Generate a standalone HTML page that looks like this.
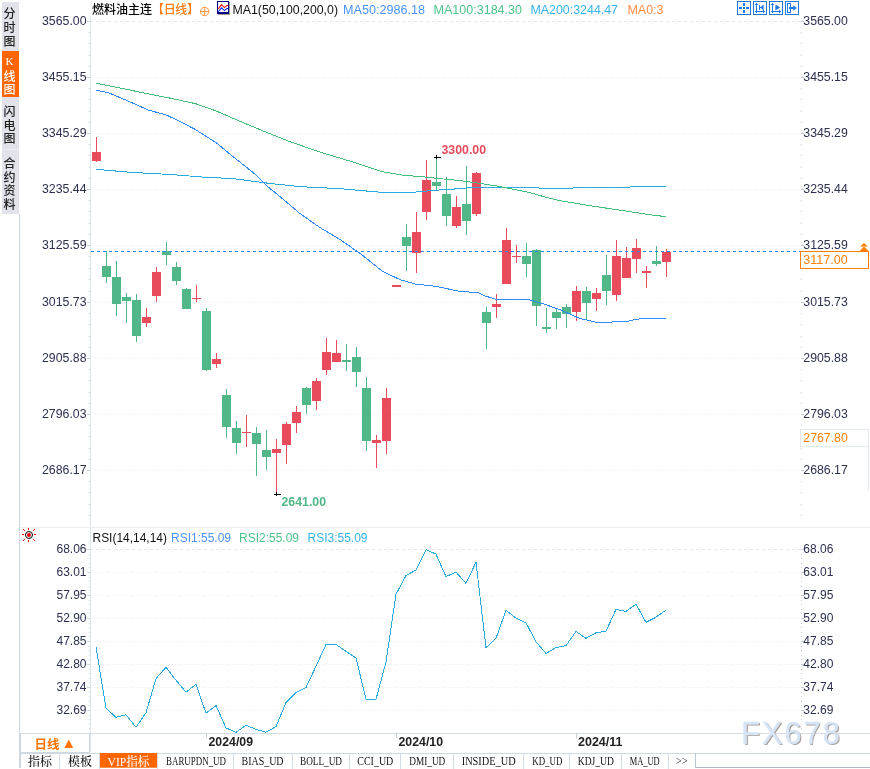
<!DOCTYPE html>
<html lang="zh"><head><meta charset="utf-8"><title>燃料油主连 日线</title>
<style>html,body{margin:0;padding:0;background:#fff}body{width:870px;height:769px;overflow:hidden}svg{display:block}text{font-family:"Liberation Sans", "Noto Sans CJK SC", sans-serif;font-size:12px}.ax{fill:#2b3050}.b{font-weight:bold}.tab{font-family:"Liberation Serif", "Noto Serif CJK SC", serif;font-size:12px;font-weight:500}.kser{font-family:"Liberation Serif",serif;font-size:11px}</style>
</head><body>
<svg width="870" height="769" viewBox="0 0 870 769">
<rect x="0" y="0" width="870" height="769" fill="#fff"/>
<g shape-rendering="crispEdges">
<rect x="90" y="16" width="1" height="736" fill="#dde6ee"/>
<rect x="19" y="527" width="851" height="1" fill="#e9eef3"/>
<rect x="19" y="733" width="851" height="1" fill="#d3dce6"/>
<rect x="19" y="214" width="1" height="554" fill="#cfd8e2"/>
<line x1="91" x2="801" y1="21.5" y2="21.5" stroke="#e1e9f1" stroke-width="1" stroke-dasharray="3 3" stroke-dashoffset="1"/>
<line x1="94" x2="801" y1="77.5" y2="77.5" stroke="#e6ebf0" stroke-width="1" stroke-dasharray="1 2"/>
<line x1="94" x2="801" y1="133.5" y2="133.5" stroke="#e6ebf0" stroke-width="1" stroke-dasharray="1 2"/>
<line x1="94" x2="801" y1="189.5" y2="189.5" stroke="#e6ebf0" stroke-width="1" stroke-dasharray="1 2"/>
<line x1="94" x2="801" y1="245.5" y2="245.5" stroke="#e6ebf0" stroke-width="1" stroke-dasharray="1 2"/>
<line x1="94" x2="801" y1="302.5" y2="302.5" stroke="#e6ebf0" stroke-width="1" stroke-dasharray="1 2"/>
<line x1="94" x2="801" y1="358.5" y2="358.5" stroke="#e6ebf0" stroke-width="1" stroke-dasharray="1 2"/>
<line x1="94" x2="801" y1="414.5" y2="414.5" stroke="#e6ebf0" stroke-width="1" stroke-dasharray="1 2"/>
<line x1="94" x2="801" y1="470.5" y2="470.5" stroke="#e6ebf0" stroke-width="1" stroke-dasharray="1 2"/>
<line x1="91" x2="801" y1="549.5" y2="549.5" stroke="#e1e9f1" stroke-width="1" stroke-dasharray="3 3" stroke-dashoffset="1"/>
<line x1="94" x2="801" y1="572.5" y2="572.5" stroke="#e6ebf0" stroke-width="1" stroke-dasharray="1 2"/>
<line x1="94" x2="801" y1="595.5" y2="595.5" stroke="#e6ebf0" stroke-width="1" stroke-dasharray="1 2"/>
<line x1="94" x2="801" y1="618.5" y2="618.5" stroke="#e6ebf0" stroke-width="1" stroke-dasharray="1 2"/>
<line x1="94" x2="801" y1="641.5" y2="641.5" stroke="#e6ebf0" stroke-width="1" stroke-dasharray="1 2"/>
<line x1="94" x2="801" y1="664.5" y2="664.5" stroke="#e6ebf0" stroke-width="1" stroke-dasharray="1 2"/>
<line x1="94" x2="801" y1="687.5" y2="687.5" stroke="#e6ebf0" stroke-width="1" stroke-dasharray="1 2"/>
<line x1="94" x2="801" y1="710.5" y2="710.5" stroke="#e6ebf0" stroke-width="1" stroke-dasharray="1 2"/>
<rect x="87" y="21" width="3" height="1" fill="#c3ccd6"/>
<rect x="801" y="21" width="3" height="1" fill="#c3c9d6"/>
<rect x="89" y="32" width="1" height="1" fill="#c3ccd6"/>
<rect x="801" y="32" width="1" height="1" fill="#c3c9d6"/>
<rect x="89" y="43" width="1" height="1" fill="#c3ccd6"/>
<rect x="801" y="43" width="1" height="1" fill="#c3c9d6"/>
<rect x="89" y="55" width="1" height="1" fill="#c3ccd6"/>
<rect x="801" y="55" width="1" height="1" fill="#c3c9d6"/>
<rect x="89" y="66" width="1" height="1" fill="#c3ccd6"/>
<rect x="801" y="66" width="1" height="1" fill="#c3c9d6"/>
<rect x="87" y="77" width="3" height="1" fill="#c3ccd6"/>
<rect x="801" y="77" width="3" height="1" fill="#c3c9d6"/>
<rect x="89" y="88" width="1" height="1" fill="#c3ccd6"/>
<rect x="801" y="88" width="1" height="1" fill="#c3c9d6"/>
<rect x="89" y="99" width="1" height="1" fill="#c3ccd6"/>
<rect x="801" y="99" width="1" height="1" fill="#c3c9d6"/>
<rect x="89" y="111" width="1" height="1" fill="#c3ccd6"/>
<rect x="801" y="111" width="1" height="1" fill="#c3c9d6"/>
<rect x="89" y="122" width="1" height="1" fill="#c3ccd6"/>
<rect x="801" y="122" width="1" height="1" fill="#c3c9d6"/>
<rect x="87" y="133" width="3" height="1" fill="#c3ccd6"/>
<rect x="801" y="133" width="3" height="1" fill="#c3c9d6"/>
<rect x="89" y="144" width="1" height="1" fill="#c3ccd6"/>
<rect x="801" y="144" width="1" height="1" fill="#c3c9d6"/>
<rect x="89" y="155" width="1" height="1" fill="#c3ccd6"/>
<rect x="801" y="155" width="1" height="1" fill="#c3c9d6"/>
<rect x="89" y="167" width="1" height="1" fill="#c3ccd6"/>
<rect x="801" y="167" width="1" height="1" fill="#c3c9d6"/>
<rect x="89" y="178" width="1" height="1" fill="#c3ccd6"/>
<rect x="801" y="178" width="1" height="1" fill="#c3c9d6"/>
<rect x="87" y="189" width="3" height="1" fill="#c3ccd6"/>
<rect x="801" y="189" width="3" height="1" fill="#c3c9d6"/>
<rect x="89" y="200" width="1" height="1" fill="#c3ccd6"/>
<rect x="801" y="200" width="1" height="1" fill="#c3c9d6"/>
<rect x="89" y="211" width="1" height="1" fill="#c3ccd6"/>
<rect x="801" y="211" width="1" height="1" fill="#c3c9d6"/>
<rect x="89" y="223" width="1" height="1" fill="#c3ccd6"/>
<rect x="801" y="223" width="1" height="1" fill="#c3c9d6"/>
<rect x="89" y="234" width="1" height="1" fill="#c3ccd6"/>
<rect x="801" y="234" width="1" height="1" fill="#c3c9d6"/>
<rect x="87" y="245" width="3" height="1" fill="#c3ccd6"/>
<rect x="801" y="245" width="3" height="1" fill="#c3c9d6"/>
<rect x="89" y="256" width="1" height="1" fill="#c3ccd6"/>
<rect x="801" y="256" width="1" height="1" fill="#c3c9d6"/>
<rect x="89" y="268" width="1" height="1" fill="#c3ccd6"/>
<rect x="801" y="268" width="1" height="1" fill="#c3c9d6"/>
<rect x="89" y="279" width="1" height="1" fill="#c3ccd6"/>
<rect x="801" y="279" width="1" height="1" fill="#c3c9d6"/>
<rect x="89" y="291" width="1" height="1" fill="#c3ccd6"/>
<rect x="801" y="291" width="1" height="1" fill="#c3c9d6"/>
<rect x="87" y="302" width="3" height="1" fill="#c3ccd6"/>
<rect x="801" y="302" width="3" height="1" fill="#c3c9d6"/>
<rect x="89" y="313" width="1" height="1" fill="#c3ccd6"/>
<rect x="801" y="313" width="1" height="1" fill="#c3c9d6"/>
<rect x="89" y="324" width="1" height="1" fill="#c3ccd6"/>
<rect x="801" y="324" width="1" height="1" fill="#c3c9d6"/>
<rect x="89" y="336" width="1" height="1" fill="#c3ccd6"/>
<rect x="801" y="336" width="1" height="1" fill="#c3c9d6"/>
<rect x="89" y="347" width="1" height="1" fill="#c3ccd6"/>
<rect x="801" y="347" width="1" height="1" fill="#c3c9d6"/>
<rect x="87" y="358" width="3" height="1" fill="#c3ccd6"/>
<rect x="801" y="358" width="3" height="1" fill="#c3c9d6"/>
<rect x="89" y="369" width="1" height="1" fill="#c3ccd6"/>
<rect x="801" y="369" width="1" height="1" fill="#c3c9d6"/>
<rect x="89" y="380" width="1" height="1" fill="#c3ccd6"/>
<rect x="801" y="380" width="1" height="1" fill="#c3c9d6"/>
<rect x="89" y="392" width="1" height="1" fill="#c3ccd6"/>
<rect x="801" y="392" width="1" height="1" fill="#c3c9d6"/>
<rect x="89" y="403" width="1" height="1" fill="#c3ccd6"/>
<rect x="801" y="403" width="1" height="1" fill="#c3c9d6"/>
<rect x="87" y="414" width="3" height="1" fill="#c3ccd6"/>
<rect x="801" y="414" width="3" height="1" fill="#c3c9d6"/>
<rect x="89" y="425" width="1" height="1" fill="#c3ccd6"/>
<rect x="801" y="425" width="1" height="1" fill="#c3c9d6"/>
<rect x="89" y="436" width="1" height="1" fill="#c3ccd6"/>
<rect x="801" y="436" width="1" height="1" fill="#c3c9d6"/>
<rect x="89" y="448" width="1" height="1" fill="#c3ccd6"/>
<rect x="801" y="448" width="1" height="1" fill="#c3c9d6"/>
<rect x="89" y="459" width="1" height="1" fill="#c3ccd6"/>
<rect x="801" y="459" width="1" height="1" fill="#c3c9d6"/>
<rect x="87" y="470" width="3" height="1" fill="#c3ccd6"/>
<rect x="801" y="470" width="3" height="1" fill="#c3c9d6"/>
<rect x="89" y="481" width="1" height="1" fill="#c3ccd6"/>
<rect x="801" y="481" width="1" height="1" fill="#c3c9d6"/>
<rect x="89" y="492" width="1" height="1" fill="#c3ccd6"/>
<rect x="801" y="492" width="1" height="1" fill="#c3c9d6"/>
<rect x="89" y="504" width="1" height="1" fill="#c3ccd6"/>
<rect x="801" y="504" width="1" height="1" fill="#c3c9d6"/>
<rect x="89" y="515" width="1" height="1" fill="#c3ccd6"/>
<rect x="801" y="515" width="1" height="1" fill="#c3c9d6"/>
<rect x="87" y="549" width="3" height="1" fill="#c9d3de"/>
<rect x="801" y="549" width="3" height="1" fill="#c3c9d6"/>
<rect x="89" y="554" width="1" height="1" fill="#c9d3de"/>
<rect x="801" y="554" width="1" height="1" fill="#c3c9d6"/>
<rect x="89" y="558" width="1" height="1" fill="#c9d3de"/>
<rect x="801" y="558" width="1" height="1" fill="#c3c9d6"/>
<rect x="89" y="563" width="1" height="1" fill="#c9d3de"/>
<rect x="801" y="563" width="1" height="1" fill="#c3c9d6"/>
<rect x="89" y="567" width="1" height="1" fill="#c9d3de"/>
<rect x="801" y="567" width="1" height="1" fill="#c3c9d6"/>
<rect x="87" y="572" width="3" height="1" fill="#c9d3de"/>
<rect x="801" y="572" width="3" height="1" fill="#c3c9d6"/>
<rect x="89" y="577" width="1" height="1" fill="#c9d3de"/>
<rect x="801" y="577" width="1" height="1" fill="#c3c9d6"/>
<rect x="89" y="581" width="1" height="1" fill="#c9d3de"/>
<rect x="801" y="581" width="1" height="1" fill="#c3c9d6"/>
<rect x="89" y="586" width="1" height="1" fill="#c9d3de"/>
<rect x="801" y="586" width="1" height="1" fill="#c3c9d6"/>
<rect x="89" y="590" width="1" height="1" fill="#c9d3de"/>
<rect x="801" y="590" width="1" height="1" fill="#c3c9d6"/>
<rect x="87" y="595" width="3" height="1" fill="#c9d3de"/>
<rect x="801" y="595" width="3" height="1" fill="#c3c9d6"/>
<rect x="89" y="600" width="1" height="1" fill="#c9d3de"/>
<rect x="801" y="600" width="1" height="1" fill="#c3c9d6"/>
<rect x="89" y="604" width="1" height="1" fill="#c9d3de"/>
<rect x="801" y="604" width="1" height="1" fill="#c3c9d6"/>
<rect x="89" y="609" width="1" height="1" fill="#c9d3de"/>
<rect x="801" y="609" width="1" height="1" fill="#c3c9d6"/>
<rect x="89" y="613" width="1" height="1" fill="#c9d3de"/>
<rect x="801" y="613" width="1" height="1" fill="#c3c9d6"/>
<rect x="87" y="618" width="3" height="1" fill="#c9d3de"/>
<rect x="801" y="618" width="3" height="1" fill="#c3c9d6"/>
<rect x="89" y="623" width="1" height="1" fill="#c9d3de"/>
<rect x="801" y="623" width="1" height="1" fill="#c3c9d6"/>
<rect x="89" y="627" width="1" height="1" fill="#c9d3de"/>
<rect x="801" y="627" width="1" height="1" fill="#c3c9d6"/>
<rect x="89" y="632" width="1" height="1" fill="#c9d3de"/>
<rect x="801" y="632" width="1" height="1" fill="#c3c9d6"/>
<rect x="89" y="636" width="1" height="1" fill="#c9d3de"/>
<rect x="801" y="636" width="1" height="1" fill="#c3c9d6"/>
<rect x="87" y="641" width="3" height="1" fill="#c9d3de"/>
<rect x="801" y="641" width="3" height="1" fill="#c3c9d6"/>
<rect x="89" y="646" width="1" height="1" fill="#c9d3de"/>
<rect x="801" y="646" width="1" height="1" fill="#c3c9d6"/>
<rect x="89" y="650" width="1" height="1" fill="#c9d3de"/>
<rect x="801" y="650" width="1" height="1" fill="#c3c9d6"/>
<rect x="89" y="655" width="1" height="1" fill="#c9d3de"/>
<rect x="801" y="655" width="1" height="1" fill="#c3c9d6"/>
<rect x="89" y="659" width="1" height="1" fill="#c9d3de"/>
<rect x="801" y="659" width="1" height="1" fill="#c3c9d6"/>
<rect x="87" y="664" width="3" height="1" fill="#c9d3de"/>
<rect x="801" y="664" width="3" height="1" fill="#c3c9d6"/>
<rect x="89" y="669" width="1" height="1" fill="#c9d3de"/>
<rect x="801" y="669" width="1" height="1" fill="#c3c9d6"/>
<rect x="89" y="673" width="1" height="1" fill="#c9d3de"/>
<rect x="801" y="673" width="1" height="1" fill="#c3c9d6"/>
<rect x="89" y="678" width="1" height="1" fill="#c9d3de"/>
<rect x="801" y="678" width="1" height="1" fill="#c3c9d6"/>
<rect x="89" y="682" width="1" height="1" fill="#c9d3de"/>
<rect x="801" y="682" width="1" height="1" fill="#c3c9d6"/>
<rect x="87" y="687" width="3" height="1" fill="#c9d3de"/>
<rect x="801" y="687" width="3" height="1" fill="#c3c9d6"/>
<rect x="89" y="692" width="1" height="1" fill="#c9d3de"/>
<rect x="801" y="692" width="1" height="1" fill="#c3c9d6"/>
<rect x="89" y="696" width="1" height="1" fill="#c9d3de"/>
<rect x="801" y="696" width="1" height="1" fill="#c3c9d6"/>
<rect x="89" y="701" width="1" height="1" fill="#c9d3de"/>
<rect x="801" y="701" width="1" height="1" fill="#c3c9d6"/>
<rect x="89" y="705" width="1" height="1" fill="#c9d3de"/>
<rect x="801" y="705" width="1" height="1" fill="#c3c9d6"/>
<rect x="87" y="710" width="3" height="1" fill="#c9d3de"/>
<rect x="801" y="710" width="3" height="1" fill="#c3c9d6"/>
<rect x="89" y="715" width="1" height="1" fill="#c9d3de"/>
<rect x="801" y="715" width="1" height="1" fill="#c3c9d6"/>
<rect x="89" y="719" width="1" height="1" fill="#c9d3de"/>
<rect x="801" y="719" width="1" height="1" fill="#c3c9d6"/>
<rect x="89" y="724" width="1" height="1" fill="#c9d3de"/>
<rect x="801" y="724" width="1" height="1" fill="#c3c9d6"/>
<rect x="89" y="728" width="1" height="1" fill="#c9d3de"/>
<rect x="801" y="728" width="1" height="1" fill="#c3c9d6"/>
</g>
<g shape-rendering="crispEdges">
<rect x="2" y="2" width="17" height="212" fill="#e2e3ea"/>
<rect x="2" y="51" width="17" height="46" fill="#ff6600"/>
<rect x="2" y="149" width="17" height="1" fill="#eceef2"/>
</g>
<text x="9.5" y="17.5" text-anchor="middle" fill="#222" font-weight="500">分</text>
<text x="9.5" y="32.0" text-anchor="middle" fill="#222" font-weight="500">时</text>
<text x="9.5" y="45.5" text-anchor="middle" fill="#222" font-weight="500">图</text>
<text x="9.5" y="65" text-anchor="middle" fill="#fff" class="kser">K</text>
<text x="9.5" y="80.5" text-anchor="middle" fill="#fff" font-weight="500">线</text>
<text x="9.5" y="93.5" text-anchor="middle" fill="#fff" font-weight="500">图</text>
<text x="9.5" y="115.5" text-anchor="middle" fill="#222" font-weight="500">闪</text>
<text x="9.5" y="129.5" text-anchor="middle" fill="#222" font-weight="500">电</text>
<text x="9.5" y="142.5" text-anchor="middle" fill="#222" font-weight="500">图</text>
<text x="9.5" y="168.0" text-anchor="middle" fill="#222" font-weight="500">合</text>
<text x="9.5" y="181.7" text-anchor="middle" fill="#222" font-weight="500">约</text>
<text x="9.5" y="194.7" text-anchor="middle" fill="#222" font-weight="500">资</text>
<text x="9.5" y="209.2" text-anchor="middle" fill="#222" font-weight="500">料</text>
<text x="92" y="14" fill="#000" font-weight="500" textLength="60">燃料油主连</text>
<text x="152" y="14" fill="#ff7a10" font-weight="500" textLength="47">【日线】</text>
<g fill="none" stroke="#ff8a2a" stroke-width="0.9"><circle cx="204.7" cy="11.5" r="4.2"/><path d="M200.5 11.5h8.4M204.7 7.3v8.4"/></g>
<g shape-rendering="crispEdges"><rect x="218" y="2" width="12" height="13" fill="#9a9a9a"/><rect x="217.5" y="1.5" width="11" height="12" fill="#fff" stroke="#000080" stroke-width="1"/><rect x="217" y="12" width="12" height="2" fill="#000080"/></g>
<path d="M218.2 8.8l3.3-4.2 3 3 2.3-2.1h1.4" fill="none" stroke="#f01010" stroke-width="1.1"/>
<path d="M218.2 11.8l3.3-4 3 2.8 2.3-2.1h1.4" fill="none" stroke="#1030f0" stroke-width="1.1"/>
<text x="232.5" y="14" fill="#111" textLength="105.5" lengthAdjust="spacingAndGlyphs">MA1(50,100,200,0)</text>
<text x="343" y="14" fill="#4a94ff" textLength="82" lengthAdjust="spacingAndGlyphs">MA50:2986.18</text>
<text x="433.5" y="14" fill="#4cc38a" textLength="88.5" lengthAdjust="spacingAndGlyphs">MA100:3184.30</text>
<text x="530.5" y="14" fill="#35b3e8" textLength="87.5" lengthAdjust="spacingAndGlyphs">MA200:3244.47</text>
<text x="627.5" y="14" fill="#ff8a45" textLength="36" lengthAdjust="spacingAndGlyphs">MA0:3</text>
<g shape-rendering="crispEdges" fill="none" stroke="#1f7ae0" stroke-width="1">
<rect x="737.5" y="1.5" width="13" height="13"/>
<rect x="753.5" y="1.5" width="13" height="13"/>
<rect x="769.5" y="1.5" width="13" height="13"/>
<rect x="785.5" y="1.5" width="13" height="13"/>
</g>
<g shape-rendering="crispEdges" fill="#1f7ae0">
<rect x="743" y="7" width="2" height="2"/><rect x="739" y="7" width="3" height="2"/><rect x="746" y="7" width="3" height="2"/><rect x="743" y="3" width="2" height="3"/><rect x="743" y="10" width="2" height="3"/>
<rect x="756" y="3" width="1" height="10"/><rect x="755" y="11" width="10" height="1"/><rect x="755" y="4" width="3" height="1"/><rect x="763" y="10" width="1" height="3"/><rect x="759" y="5" width="1" height="5"/><rect x="760" y="7" width="1" height="1"/>
<rect x="772" y="3" width="1" height="10"/><rect x="771" y="11" width="10" height="1"/><rect x="771" y="4" width="3" height="1"/><rect x="779" y="10" width="1" height="3"/>
<rect x="787" y="3" width="1" height="10"/><rect x="787" y="3" width="4" height="1"/><rect x="787" y="12" width="4" height="1"/><rect x="790" y="3" width="1" height="10"/><rect x="789" y="7" width="5" height="2"/>
</g>
<g fill="#1f7ae0">
<path d="M763.6 4.6v5.8l-3.4-2.9z"/>
<path d="M775.4 4.6v5.8l4.8-2.9z"/>
<path d="M793.3 5.2l3.6 2.8-3.6 2.8z"/>
</g>
<text class="ax" x="42" y="24.5" textLength="44.5" lengthAdjust="spacingAndGlyphs">3565.00</text>
<text class="ax" x="803.3" y="24.5" textLength="44.5" lengthAdjust="spacingAndGlyphs">3565.00</text>
<text class="ax" x="42" y="80.5" textLength="44.5" lengthAdjust="spacingAndGlyphs">3455.15</text>
<text class="ax" x="803.3" y="80.5" textLength="44.5" lengthAdjust="spacingAndGlyphs">3455.15</text>
<text class="ax" x="42" y="136.5" textLength="44.5" lengthAdjust="spacingAndGlyphs">3345.29</text>
<text class="ax" x="803.3" y="136.5" textLength="44.5" lengthAdjust="spacingAndGlyphs">3345.29</text>
<text class="ax" x="42" y="192.5" textLength="44.5" lengthAdjust="spacingAndGlyphs">3235.44</text>
<text class="ax" x="803.3" y="192.5" textLength="44.5" lengthAdjust="spacingAndGlyphs">3235.44</text>
<text class="ax" x="42" y="248.5" textLength="44.5" lengthAdjust="spacingAndGlyphs">3125.59</text>
<text class="ax" x="803.3" y="248.5" textLength="44.5" lengthAdjust="spacingAndGlyphs">3125.59</text>
<text class="ax" x="42" y="305.5" textLength="44.5" lengthAdjust="spacingAndGlyphs">3015.73</text>
<text class="ax" x="803.3" y="305.5" textLength="44.5" lengthAdjust="spacingAndGlyphs">3015.73</text>
<text class="ax" x="42" y="361.5" textLength="44.5" lengthAdjust="spacingAndGlyphs">2905.88</text>
<text class="ax" x="803.3" y="361.5" textLength="44.5" lengthAdjust="spacingAndGlyphs">2905.88</text>
<text class="ax" x="42" y="417.5" textLength="44.5" lengthAdjust="spacingAndGlyphs">2796.03</text>
<text class="ax" x="803.3" y="417.5" textLength="44.5" lengthAdjust="spacingAndGlyphs">2796.03</text>
<text class="ax" x="42" y="473.5" textLength="44.5" lengthAdjust="spacingAndGlyphs">2686.17</text>
<text class="ax" x="803.3" y="473.5" textLength="44.5" lengthAdjust="spacingAndGlyphs">2686.17</text>
<text class="ax" x="86.5" y="552.5" text-anchor="end">68.06</text>
<text class="ax" x="803.3" y="552.5">68.06</text>
<text class="ax" x="86.5" y="575.5" text-anchor="end">63.01</text>
<text class="ax" x="803.3" y="575.5">63.01</text>
<text class="ax" x="86.5" y="598.5" text-anchor="end">57.95</text>
<text class="ax" x="803.3" y="598.5">57.95</text>
<text class="ax" x="86.5" y="621.5" text-anchor="end">52.90</text>
<text class="ax" x="803.3" y="621.5">52.90</text>
<text class="ax" x="86.5" y="644.5" text-anchor="end">47.85</text>
<text class="ax" x="803.3" y="644.5">47.85</text>
<text class="ax" x="86.5" y="667.5" text-anchor="end">42.80</text>
<text class="ax" x="803.3" y="667.5">42.80</text>
<text class="ax" x="86.5" y="690.5" text-anchor="end">37.74</text>
<text class="ax" x="803.3" y="690.5">37.74</text>
<text class="ax" x="86.5" y="713.5" text-anchor="end">32.69</text>
<text class="ax" x="803.3" y="713.5">32.69</text>
<g shape-rendering="crispEdges">
<rect x="96" y="137" width="1" height="25" fill="#e84c5c"/>
<rect x="92" y="152" width="9" height="9" fill="#e84c5c"/>
<rect x="106" y="251" width="1" height="32" fill="#52b788"/>
<rect x="102" y="266" width="9" height="11" fill="#52b788"/>
<rect x="116" y="261" width="1" height="55" fill="#52b788"/>
<rect x="112" y="277" width="9" height="27" fill="#52b788"/>
<rect x="126" y="293" width="1" height="30" fill="#52b788"/>
<rect x="122" y="297" width="9" height="4" fill="#52b788"/>
<rect x="136" y="294" width="1" height="48" fill="#52b788"/>
<rect x="132" y="300" width="9" height="36" fill="#52b788"/>
<rect x="146" y="308" width="1" height="19" fill="#e84c5c"/>
<rect x="142" y="317" width="9" height="6" fill="#e84c5c"/>
<rect x="156" y="267" width="1" height="35" fill="#e84c5c"/>
<rect x="152" y="272" width="9" height="24" fill="#e84c5c"/>
<rect x="166" y="242" width="1" height="23" fill="#52b788"/>
<rect x="162" y="251" width="9" height="4" fill="#52b788"/>
<rect x="176" y="262" width="1" height="23" fill="#52b788"/>
<rect x="172" y="267" width="9" height="14" fill="#52b788"/>
<rect x="186" y="288" width="1" height="21" fill="#52b788"/>
<rect x="182" y="289" width="9" height="20" fill="#52b788"/>
<rect x="196" y="285" width="1" height="17" fill="#e84c5c"/>
<rect x="192" y="298" width="9" height="1" fill="#e84c5c"/>
<rect x="206" y="308" width="1" height="63" fill="#52b788"/>
<rect x="202" y="311" width="9" height="59" fill="#52b788"/>
<rect x="216" y="353" width="1" height="15" fill="#e84c5c"/>
<rect x="212" y="359" width="9" height="5" fill="#e84c5c"/>
<rect x="226" y="389" width="1" height="49" fill="#52b788"/>
<rect x="222" y="395" width="9" height="32" fill="#52b788"/>
<rect x="236" y="421" width="1" height="33" fill="#52b788"/>
<rect x="232" y="428" width="9" height="15" fill="#52b788"/>
<rect x="246" y="415" width="1" height="32" fill="#e84c5c"/>
<rect x="242" y="432" width="9" height="1" fill="#e84c5c"/>
<rect x="256" y="427" width="1" height="49" fill="#52b788"/>
<rect x="252" y="433" width="9" height="11" fill="#52b788"/>
<rect x="266" y="430" width="1" height="40" fill="#52b788"/>
<rect x="262" y="450" width="9" height="7" fill="#52b788"/>
<rect x="276" y="439" width="1" height="54" fill="#e84c5c"/>
<rect x="272" y="449" width="9" height="4" fill="#e84c5c"/>
<rect x="286" y="422" width="1" height="42" fill="#e84c5c"/>
<rect x="282" y="424" width="9" height="21" fill="#e84c5c"/>
<rect x="296" y="406" width="1" height="27" fill="#e84c5c"/>
<rect x="292" y="412" width="9" height="11" fill="#e84c5c"/>
<rect x="306" y="387" width="1" height="27" fill="#52b788"/>
<rect x="302" y="388" width="9" height="17" fill="#52b788"/>
<rect x="316" y="378" width="1" height="32" fill="#e84c5c"/>
<rect x="312" y="381" width="9" height="20" fill="#e84c5c"/>
<rect x="326" y="338" width="1" height="37" fill="#e84c5c"/>
<rect x="322" y="352" width="9" height="18" fill="#e84c5c"/>
<rect x="336" y="340" width="1" height="22" fill="#e84c5c"/>
<rect x="332" y="353" width="9" height="9" fill="#e84c5c"/>
<rect x="346" y="344" width="1" height="27" fill="#52b788"/>
<rect x="342" y="360" width="9" height="2" fill="#52b788"/>
<rect x="356" y="347" width="1" height="40" fill="#52b788"/>
<rect x="352" y="357" width="9" height="15" fill="#52b788"/>
<rect x="366" y="377" width="1" height="74" fill="#52b788"/>
<rect x="362" y="388" width="9" height="53" fill="#52b788"/>
<rect x="376" y="435" width="1" height="33" fill="#e84c5c"/>
<rect x="372" y="440" width="9" height="3" fill="#e84c5c"/>
<rect x="386" y="388" width="1" height="66" fill="#e84c5c"/>
<rect x="382" y="398" width="9" height="43" fill="#e84c5c"/>
<rect x="392" y="285" width="9" height="2" fill="#e84c5c"/>
<rect x="406" y="224" width="1" height="47" fill="#52b788"/>
<rect x="402" y="237" width="9" height="9" fill="#52b788"/>
<rect x="416" y="212" width="1" height="61" fill="#e84c5c"/>
<rect x="412" y="232" width="9" height="21" fill="#e84c5c"/>
<rect x="426" y="160" width="1" height="60" fill="#e84c5c"/>
<rect x="422" y="180" width="9" height="32" fill="#e84c5c"/>
<rect x="436" y="157" width="1" height="33" fill="#52b788"/>
<rect x="432" y="182" width="9" height="4" fill="#52b788"/>
<rect x="446" y="177" width="1" height="49" fill="#52b788"/>
<rect x="442" y="194" width="9" height="22" fill="#52b788"/>
<rect x="456" y="196" width="1" height="32" fill="#e84c5c"/>
<rect x="452" y="207" width="9" height="19" fill="#e84c5c"/>
<rect x="466" y="166" width="1" height="69" fill="#52b788"/>
<rect x="462" y="204" width="9" height="17" fill="#52b788"/>
<rect x="476" y="172" width="1" height="44" fill="#e84c5c"/>
<rect x="472" y="173" width="9" height="41" fill="#e84c5c"/>
<rect x="486" y="307" width="1" height="42" fill="#52b788"/>
<rect x="482" y="312" width="9" height="11" fill="#52b788"/>
<rect x="496" y="294" width="1" height="24" fill="#e84c5c"/>
<rect x="492" y="304" width="9" height="3" fill="#e84c5c"/>
<rect x="506" y="228" width="1" height="56" fill="#e84c5c"/>
<rect x="502" y="240" width="9" height="44" fill="#e84c5c"/>
<rect x="516" y="245" width="1" height="18" fill="#e84c5c"/>
<rect x="512" y="256" width="9" height="1" fill="#e84c5c"/>
<rect x="526" y="243" width="1" height="34" fill="#52b788"/>
<rect x="522" y="256" width="9" height="8" fill="#52b788"/>
<rect x="536" y="249" width="1" height="77" fill="#52b788"/>
<rect x="532" y="250" width="9" height="56" fill="#52b788"/>
<rect x="546" y="308" width="1" height="25" fill="#52b788"/>
<rect x="542" y="327" width="9" height="2" fill="#52b788"/>
<rect x="556" y="308" width="1" height="21" fill="#52b788"/>
<rect x="552" y="312" width="9" height="6" fill="#52b788"/>
<rect x="566" y="304" width="1" height="24" fill="#52b788"/>
<rect x="562" y="307" width="9" height="7" fill="#52b788"/>
<rect x="576" y="286" width="1" height="35" fill="#e84c5c"/>
<rect x="572" y="291" width="9" height="21" fill="#e84c5c"/>
<rect x="586" y="287" width="1" height="32" fill="#52b788"/>
<rect x="582" y="291" width="9" height="12" fill="#52b788"/>
<rect x="596" y="288" width="1" height="23" fill="#e84c5c"/>
<rect x="592" y="293" width="9" height="6" fill="#e84c5c"/>
<rect x="606" y="255" width="1" height="50" fill="#52b788"/>
<rect x="602" y="275" width="9" height="16" fill="#52b788"/>
<rect x="616" y="240" width="1" height="61" fill="#e84c5c"/>
<rect x="612" y="256" width="9" height="39" fill="#e84c5c"/>
<rect x="626" y="247" width="1" height="31" fill="#e84c5c"/>
<rect x="622" y="258" width="9" height="20" fill="#e84c5c"/>
<rect x="636" y="239" width="1" height="34" fill="#e84c5c"/>
<rect x="632" y="248" width="9" height="11" fill="#e84c5c"/>
<rect x="646" y="266" width="1" height="22" fill="#e84c5c"/>
<rect x="642" y="271" width="9" height="2" fill="#e84c5c"/>
<rect x="656" y="246" width="1" height="20" fill="#52b788"/>
<rect x="652" y="261" width="9" height="3" fill="#52b788"/>
<rect x="666" y="249" width="1" height="28" fill="#e84c5c"/>
<rect x="662" y="252" width="9" height="10" fill="#e84c5c"/>
</g>
<line x1="91" x2="801" y1="251.5" y2="251.5" stroke="#1e8cff" stroke-width="1" stroke-dasharray="3 3" shape-rendering="crispEdges"/>
<polyline fill="none" stroke="#29abe2" stroke-width="1" stroke-linejoin="round" shape-rendering="crispEdges" points="96.0,169.3 131.5,172.4 170.8,174.5 201.8,177.0 232.8,178.6 268.0,183.2 299.4,186.6 340.8,188.7 382.0,192.4 411.0,192.4 440.4,189.9 461.0,188.6 472.0,187.3 508.0,187.3 551.8,188.3 580.8,187.9 640.8,186.8 666.0,186.4"/>
<polyline fill="none" stroke="#42be7d" stroke-width="1" stroke-linejoin="round" shape-rendering="crispEdges" points="96.0,83.2 120.0,88.0 148.0,93.8 172.0,98.5 195.6,103.7 215.0,110.5 232.8,118.2 250.0,125.5 266.0,132.1 289.0,141.3 320.0,152.1 351.0,161.4 382.0,171.7 402.8,175.2 423.5,176.8 438.0,178.5 459.7,180.5 484.5,184.1 498.0,186.2 529.0,192.4 545.0,197.0 560.0,200.7 591.0,205.9 622.0,210.4 653.0,215.2 666.0,216.6"/>
<polyline fill="none" stroke="#2e8cff" stroke-width="1" stroke-linejoin="round" shape-rendering="crispEdges" points="96.0,90.3 108.7,92.8 128.0,101.0 148.0,109.9 166.6,115.1 180.0,121.5 195.6,129.6 216.3,142.8 232.8,156.5 253.5,172.8 268.0,186.9 278.7,195.5 299.4,213.1 320.0,227.6 340.8,240.0 361.5,254.5 382.0,271.0 388.0,274.0 400.0,279.6 415.0,284.0 435.0,286.2 460.0,291.4 478.0,292.6 485.0,295.9 496.0,299.3 508.0,299.5 530.0,300.0 545.0,304.4 560.0,309.7 580.0,318.6 588.0,320.2 596.0,322.3 610.0,322.3 616.0,321.2 628.0,321.2 636.0,319.4 646.0,318.1 666.0,318.1"/>
<polyline fill="none" stroke="#29abe2" stroke-width="1" stroke-linejoin="round" shape-rendering="crispEdges" points="96.0,647.0 106.0,708.2 116.0,717.3 126.0,714.8 136.0,727.2 146.0,712.8 156.0,678.6 166.0,667.2 176.0,680.3 186.0,692.1 196.0,684.4 206.0,713.2 216.0,705.5 226.0,727.9 236.0,732.4 246.0,725.2 256.0,729.3 266.0,732.2 276.0,726.6 286.0,702.4 296.0,692.7 306.0,687.5 316.0,666.2 326.0,644.5 336.0,644.5 346.0,651.3 356.0,657.9 366.0,699.3 376.0,699.3 386.0,662.0 396.0,594.2 406.0,575.6 416.0,570.0 426.0,549.7 436.0,554.1 446.0,576.6 456.0,572.1 466.0,583.4 476.0,562.3 486.0,647.6 496.0,638.3 506.0,610.3 516.0,618.2 526.0,622.8 536.0,641.7 546.0,653.4 556.0,647.6 566.0,645.5 576.0,631.5 586.0,638.3 596.0,632.7 606.0,631.2 616.0,609.3 626.0,611.4 636.0,604.1 646.0,622.3 656.0,617.2 666.0,610.1"/>
<g shape-rendering="crispEdges" fill="#000">
<rect x="434" y="157" width="7" height="1"/><rect x="436" y="155" width="1" height="4"/>
<rect x="274" y="494" width="7" height="1"/><rect x="276" y="492" width="1" height="4"/>
</g>
<text class="b" x="441.5" y="154" fill="#e8495c" textLength="44.5" lengthAdjust="spacingAndGlyphs">3300.00</text>
<text class="b" x="281.5" y="506" fill="#52b788" textLength="44.5" lengthAdjust="spacingAndGlyphs">2641.00</text>
<g shape-rendering="crispEdges">
<rect x="800.5" y="251.5" width="68" height="17" fill="#fff" stroke="#ff7f00" stroke-width="1"/>
<rect x="800.5" y="429.5" width="68" height="17" fill="#fff" stroke="#e2e9f0" stroke-width="1"/>
<rect x="868" y="446" width="1" height="44" fill="#dfe7ef"/>
</g>
<text x="803.3" y="264" fill="#ff7f00" textLength="44.5" lengthAdjust="spacingAndGlyphs">3117.00</text>
<text x="803.3" y="441.5" fill="#ff7f00" textLength="44.5" lengthAdjust="spacingAndGlyphs">2767.80</text>
<path d="M864 243l4 3.5h-8zM864 246.5l4.5 4.5h-9z" fill="#ff7f00"/>
<g><circle cx="29" cy="535" r="3.5" fill="#fff" stroke="#000" stroke-width="1"/><circle cx="29" cy="535" r="2" fill="#f00"/><g stroke="#f00" stroke-width="1"><path d="M28.5 528v2M28.5 540v2M22 534.5h2M34 534.5h2M23 529l2 2M35 529l-2 2M23 541l2-2M35 541l-2-2"/></g></g>
<text x="92.5" y="542" fill="#111" textLength="74.5" lengthAdjust="spacingAndGlyphs">RSI(14,14,14)</text>
<text x="171" y="542" fill="#4a94ff" textLength="60" lengthAdjust="spacingAndGlyphs">RSI1:55.09</text>
<text x="239" y="542" fill="#4cc38a" textLength="60" lengthAdjust="spacingAndGlyphs">RSI2:55.09</text>
<text x="307.5" y="542" fill="#35b3e8" textLength="60" lengthAdjust="spacingAndGlyphs">RSI3:55.09</text>
<g shape-rendering="crispEdges" fill="#c5d0dc"><rect x="206" y="733" width="1" height="5"/><rect x="396" y="733" width="1" height="5"/><rect x="576" y="733" width="1" height="5"/></g>
<text class="b" x="208.5" y="746" fill="#222" textLength="44.5" lengthAdjust="spacingAndGlyphs">2024/09</text>
<text class="b" x="398.5" y="746" fill="#222" textLength="44.5" lengthAdjust="spacingAndGlyphs">2024/10</text>
<text class="b" x="578" y="746" fill="#222" textLength="44.5" lengthAdjust="spacingAndGlyphs">2024/11</text>
<g shape-rendering="crispEdges" fill="#cfd8e2"><rect x="20" y="734" width="1" height="34"/><rect x="89" y="734" width="1" height="19"/><rect x="19" y="752" width="71" height="1"/><rect x="19" y="753" width="851" height="1" fill="#d0d8e0"/></g>
<text class="b" x="34.5" y="748.5" fill="#ff7300" style="font-size:12.5px">日线</text>
<path d="M64.4 747.9l4.4-8.4 4.4 8.4z" fill="#ff7300"/>
<rect x="100" y="753" width="57" height="14.7" fill="#ff6600"/>
<g shape-rendering="crispEdges"><rect x="695" y="753" width="1" height="15" fill="#b9c5d1"/><rect x="695" y="767" width="175" height="1" fill="#b3bac2"/></g>
<g shape-rendering="crispEdges" fill="#d3dbe4">
<rect x="157" y="754" width="1" height="15"/>
<rect x="59" y="754" width="1" height="15"/>
<rect x="99" y="754" width="1" height="15"/>
<rect x="233" y="754" width="1" height="15"/>
<rect x="292" y="754" width="1" height="15"/>
<rect x="349" y="754" width="1" height="15"/>
<rect x="400" y="754" width="1" height="15"/>
<rect x="453" y="754" width="1" height="15"/>
<rect x="523" y="754" width="1" height="15"/>
<rect x="569" y="754" width="1" height="15"/>
<rect x="621" y="754" width="1" height="15"/>
<rect x="668" y="754" width="1" height="15"/>
</g>
<text x="28" y="765.5" fill="#111" class="tab" textLength="24">指标</text>
<text x="68" y="765.5" fill="#111" class="tab" textLength="24">模板</text>
<text x="107.5" y="765.5" fill="#fff" class="tab" textLength="42" lengthAdjust="spacingAndGlyphs">VIP指标</text>
<text x="166.0" y="765" fill="#111" class="tab" textLength="60" lengthAdjust="spacingAndGlyphs">BARUPDN_UD</text>
<text x="241.5" y="765" fill="#111" class="tab" textLength="42" lengthAdjust="spacingAndGlyphs">BIAS_UD</text>
<text x="300.0" y="765" fill="#111" class="tab" textLength="42" lengthAdjust="spacingAndGlyphs">BOLL_UD</text>
<text x="357.3" y="765" fill="#111" class="tab" textLength="36" lengthAdjust="spacingAndGlyphs">CCI_UD</text>
<text x="409.3" y="765" fill="#111" class="tab" textLength="36" lengthAdjust="spacingAndGlyphs">DMI_UD</text>
<text x="461.7" y="765" fill="#111" class="tab" textLength="54" lengthAdjust="spacingAndGlyphs">INSIDE_UD</text>
<text x="532.3" y="765" fill="#111" class="tab" textLength="30" lengthAdjust="spacingAndGlyphs">KD_UD</text>
<text x="577.8" y="765" fill="#111" class="tab" textLength="36" lengthAdjust="spacingAndGlyphs">KDJ_UD</text>
<text x="629.7" y="765" fill="#111" class="tab" textLength="30" lengthAdjust="spacingAndGlyphs">MA_UD</text>
<text x="675.7" y="765" fill="#111" class="tab" textLength="12" lengthAdjust="spacingAndGlyphs">&gt;&gt;</text>
<g style="font-size:30.5px;letter-spacing:2.15px" >
<text x="742.4" y="745.3" fill="#a89c94" style="font-size:30.5px;filter:blur(0.5px)">FX678</text>
<text x="741.3" y="744.3" fill="#d6e4f5" stroke="#d6e4f5" stroke-width="0.4" style="font-size:30.5px">FX678</text>
</g>
</svg>
</body></html>
